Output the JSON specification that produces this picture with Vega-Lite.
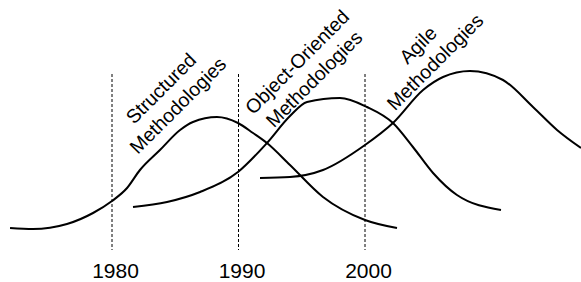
{
  "$schema": "https://vega.github.io/schema/vega-lite/v6.json",
  "width": 581,
  "height": 250,
  "autosize": "none",
  "padding": {"left": 0, "top": 0, "right": 0, "bottom": 32},
  "background": "white",
  "config": {"view": {"stroke": null}},
  "datasets": {
    "curves": [
      {"curve": "Structured", "year": 1971.94, "v": 22},
      {"curve": "Structured", "year": 1973.75, "v": 21},
      {"curve": "Structured", "year": 1976.44, "v": 26},
      {"curve": "Structured", "year": 1978.50, "v": 37},
      {"curve": "Structured", "year": 1980.00, "v": 49},
      {"curve": "Structured", "year": 1981.19, "v": 62},
      {"curve": "Structured", "year": 1982.21, "v": 80},
      {"curve": "Structured", "year": 1983.79, "v": 100},
      {"curve": "Structured", "year": 1985.38, "v": 120},
      {"curve": "Structured", "year": 1986.40, "v": 128},
      {"curve": "Structured", "year": 1988.30, "v": 133},
      {"curve": "Structured", "year": 1989.96, "v": 127},
      {"curve": "Structured", "year": 1991.15, "v": 117},
      {"curve": "Structured", "year": 1992.25, "v": 107},
      {"curve": "Structured", "year": 1994.07, "v": 85},
      {"curve": "Structured", "year": 1996.68, "v": 53},
      {"curve": "Structured", "year": 2000.00, "v": 30},
      {"curve": "Structured", "year": 2002.53, "v": 22},
      {"curve": "OO", "year": 1981.66, "v": 43},
      {"curve": "OO", "year": 1984.35, "v": 48},
      {"curve": "OO", "year": 1986.96, "v": 58},
      {"curve": "OO", "year": 1989.96, "v": 78},
      {"curve": "OO", "year": 1992.25, "v": 107},
      {"curve": "OO", "year": 1994.07, "v": 134},
      {"curve": "OO", "year": 1995.42, "v": 148},
      {"curve": "OO", "year": 1998.02, "v": 152},
      {"curve": "OO", "year": 2000.16, "v": 143},
      {"curve": "OO", "year": 2002.21, "v": 127},
      {"curve": "OO", "year": 2003.79, "v": 103},
      {"curve": "OO", "year": 2005.38, "v": 77},
      {"curve": "OO", "year": 2007.27, "v": 55},
      {"curve": "OO", "year": 2010.75, "v": 40},
      {"curve": "Agile", "year": 1991.70, "v": 72},
      {"curve": "Agile", "year": 1994.07, "v": 73},
      {"curve": "Agile", "year": 1996.68, "v": 80},
      {"curve": "Agile", "year": 2000.00, "v": 105},
      {"curve": "Agile", "year": 2002.21, "v": 127},
      {"curve": "Agile", "year": 2004.59, "v": 160},
      {"curve": "Agile", "year": 2006.17, "v": 173},
      {"curve": "Agile", "year": 2008.30, "v": 179},
      {"curve": "Agile", "year": 2010.91, "v": 170},
      {"curve": "Agile", "year": 2013.28, "v": 143},
      {"curve": "Agile", "year": 2015.18, "v": 120},
      {"curve": "Agile", "year": 2017.07, "v": 102}
    ],
    "rules": [
      {"year": 1980, "top": 176, "bottom": 0},
      {"year": 1990, "top": 176, "bottom": 0},
      {"year": 2000, "top": 176, "bottom": 0}
    ],
    "labels": [
      {"year": 1983.91, "v": 161, "text": "Structured\nMethodologies"},
      {"year": 1994.67, "v": 187.5, "text": "Object-Oriented\nMethodologies"},
      {"year": 2004.23, "v": 204.5, "text": "Agile\nMethodologies"}
    ]
  },
  "layer": [
    {
      "data": {"name": "rules"},
      "mark": {"type": "rule", "stroke": "black", "strokeWidth": 1, "strokeDash": [3, 2]},
      "encoding": {
        "x": {"field": "year", "type": "quantitative", "scale": {"domain": [1971.146, 2017.075], "nice": false, "zero": false},
          "axis": {"values": [1980, 1990, 2000], "format": "d", "domain": false, "ticks": false, "grid": false, "title": null,
            "labelFont": "Liberation Sans", "labelFontSize": 21, "labelColor": "black", "labelPadding": 10, "labelOffset": 3}},
        "y": {"field": "top", "type": "quantitative", "scale": {"domain": [0, 250], "nice": false, "zero": false}, "axis": null},
        "y2": {"field": "bottom"}
      }
    },
    {
      "data": {"name": "curves"},
      "mark": {"type": "line", "stroke": "black", "strokeWidth": 2, "interpolate": "monotone"},
      "encoding": {
        "x": {"field": "year", "type": "quantitative"},
        "y": {"field": "v", "type": "quantitative"},
        "detail": {"field": "curve"}
      }
    },
    {
      "data": {"name": "labels"},
      "mark": {"type": "text", "font": "Liberation Sans", "fontSize": 19.5, "lineHeight": 24, "angle": -45, "align": "center", "baseline": "middle", "color": "black", "lineBreak": "\n"},
      "encoding": {
        "x": {"field": "year", "type": "quantitative"},
        "y": {"field": "v", "type": "quantitative"},
        "text": {"field": "text"}
      }
    }
  ]
}
